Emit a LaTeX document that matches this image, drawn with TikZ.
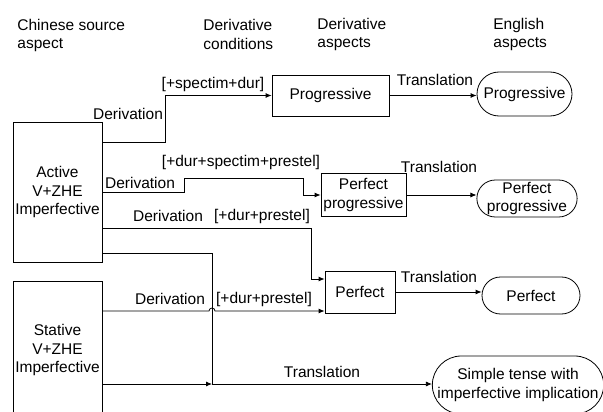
\documentclass[tikz,border=0pt]{standalone}
\usepackage{fontspec}
\setmainfont{Liberation Sans}
\usetikzlibrary{arrows.meta,shapes.misc}

\begin{document}
\begin{tikzpicture}[x=1pt,y=-1pt,line width=0.8pt,
  every node/.style={font=\fontsize{15.5}{18.5}\selectfont,inner sep=0pt},
  box/.style={draw,rectangle,align=center},
  eng/.style={draw,rounded rectangle,align=center},
  arr/.style={-{Latex[length=6pt,width=5pt]}}]
  \useasboundingbox (0,0) rectangle (603,412);
  \clip (0,0) rectangle (603,412);

  % column titles
  \node[anchor=west,align=left] (hdsrc) at (17,35.5) {Chinese source\\aspect};
  \node[anchor=west,align=left] (hdcond) at (203,34.5) {Derivative\\conditions};
  \node[anchor=west,align=left] (hdder) at (317,34.5) {Derivative\\aspects};
  \node[anchor=west,align=left] (hdeng) at (493,34.5) {English\\aspects};

  % source aspects
  \node[box,minimum width=89,minimum height=140] (active) at (57.5,192) {Active\\V+ZHE\\Imperfective};
  \node[box,minimum width=89,minimum height=138] (stative) at (57.5,350) {Stative\\V+ZHE\\Imperfective};

  % derivative aspects
  \node[box,minimum width=117,minimum height=41] (prog) at (330.5,95.5) {Progressive};
  \node[box,minimum width=85,minimum height=43] (perfprog) at (363.5,195) {Perfect\\progressive};
  \node[box,minimum width=70,minimum height=42] (perf) at (360,292) {Perfect};

  % english aspects
  \node[eng,minimum width=95,minimum height=44] (engprog) at (524.5,94) {Progressive};
  \node[eng,minimum width=100,minimum height=37] (engperfprog) at (527,198.5) {Perfect\\progressive};
  \node[eng,minimum width=98,minimum height=37] (engperf) at (531,295.5) {Perfect};
  \node[eng,minimum width=170,minimum height=58] (simple) at (518,385) {Simple tense with\\imperfective implication};
  \coordinate (join) at (212,384);

  % derivations
  \draw[arr] (active.east |- 0,142) -| (165,0 |- prog.west) -- (prog.west);
  \draw[arr] (active.east |- 0,192) -- (184,192) -- (184,178) -- (303,178)
    -- (303,0 |- perfprog.west) -- (perfprog.west);
  \draw[arr] (active.east |- 0,228) -| (311,279) -- (perf.west |- 0,279);
  \draw (active.east |- 0,253) -| (join);
  \draw[arr] (stative.east |- 0,311) -- (209,311)
    arc[start angle=180,end angle=360,radius=3] -- (perf.west |- 0,311);
  \draw[arr] (stative.east |- join) -- (join);
  \draw[arr] (join) -- (simple.west |- join);

  \node (derA) at (128,114) {Derivation};
  \node (condA) at (213,84) {[+spectim+dur]};
  \node (derB) at (140,183) {Derivation};
  \node (condB) at (241,162) {[+dur+spectim+prestel]};
  \node (derC) at (168,216) {Derivation};
  \node (condC) at (262,216) {[+dur+prestel]};
  \node (derD) at (170,299) {Derivation};
  \node (condD) at (264,299) {[+dur+prestel]};

  % translations
  \draw[arr] (prog.east) -- (engprog.west |- prog.east);
  \draw[arr] (perfprog.east) -- (engperfprog.west |- perfprog.east);
  \draw[arr] (perf.east) -- (engperf.west |- perf.east);
  \node (transA) at (435,80) {Translation};
  \node (transB) at (439,167) {Translation};
  \node (transC) at (439,277) {Translation};
  \node (transD) at (322,372) {Translation};
\end{tikzpicture}
\end{document}
